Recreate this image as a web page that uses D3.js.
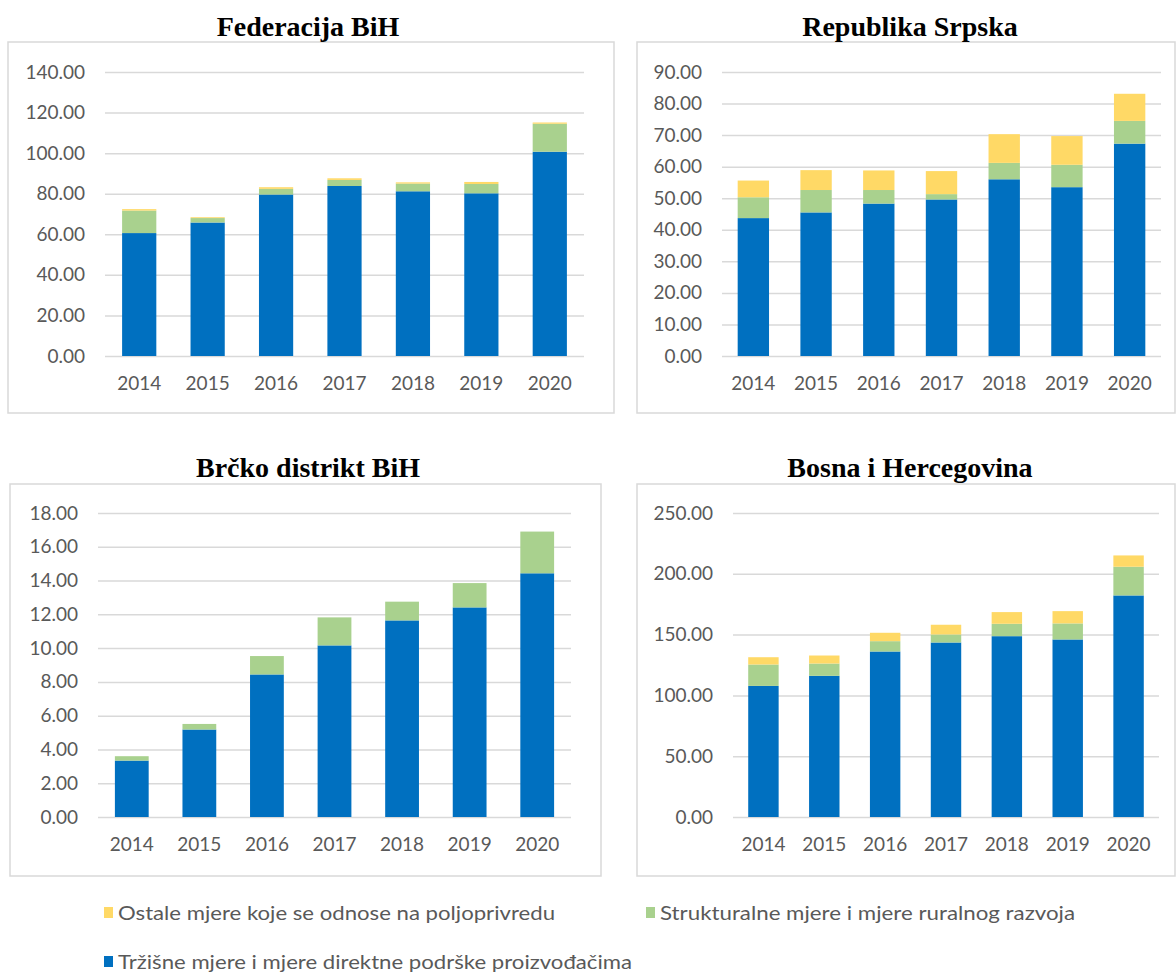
<!DOCTYPE html>
<html>
<head>
<meta charset="utf-8">
<script src="https://cdn.jsdelivr.net/npm/d3@7"></script>
<style>
  body { margin: 0; background: #fff; }
  svg { display: block; }
  .tick text { font-family: Lato, "Open Sans", sans-serif; font-size: 19px; fill: #595959; }
  .title { font-family: "Liberation Serif", "Times New Roman", serif; font-weight: bold; font-size: 28px; fill: #000; }
  .legend text { font-family: Lato, "Open Sans", sans-serif; font-size: 19px; fill: #595959; }
</style>
</head>
<body>
<div id="main"></div>
<script>
const years = ["2014", "2015", "2016", "2017", "2018", "2019", "2020"];
const seriesNames = [
  "Tržišne mjere i mjere direktne podrške proizvođačima",
  "Strukturalne mjere i mjere ruralnog razvoja",
  "Ostale mjere koje se odnose na poljoprivredu"
];
const colors = ["#0070c0", "#a9d18e", "#ffd966"];

// Federacija BiH
const fbihMarket = [60.6, 65.8, 79.6, 83.8, 81.2, 80.2, 100.7];
const fbihRural  = [11.1, 2.2, 2.8, 3.0, 3.8, 4.6, 13.8];
const fbihOther  = [0.7, 0.4, 0.8, 0.8, 0.6, 1.0, 0.6];
// Republika Srpska
const rsMarket = [43.7, 45.5, 48.3, 49.6, 56.0, 53.5, 67.3];
const rsRural  = [6.6, 7.1, 4.3, 1.7, 5.2, 7.1, 7.2];
const rsOther  = [5.3, 6.3, 6.2, 7.3, 9.1, 9.1, 8.6];
// Brčko distrikt BiH
const bdMarket = [3.34, 5.18, 8.44, 10.16, 11.64, 12.41, 14.43];
const bdRural  = [0.26, 0.33, 1.09, 1.66, 1.11, 1.44, 2.47];
const bdOther  = [0, 0, 0, 0, 0, 0, 0];
// Bosna i Hercegovina
const bihMarket = [107.8, 116.1, 136.1, 143.5, 148.7, 146.0, 182.2];
const bihRural  = [17.6, 10.1, 8.5, 6.6, 10.2, 13.2, 23.6];
const bihOther  = [6.0, 6.6, 6.9, 8.0, 9.6, 10.1, 9.3];

const yTicksFbih = [0, 20, 40, 60, 80, 100, 120, 140];
const yTicksRs = [0, 10, 20, 30, 40, 50, 60, 70, 80, 90];
const yTicksBd = [0, 2, 4, 6, 8, 10, 12, 14, 16, 18];
const yTicksBih = [0, 50, 100, 150, 200, 250];

const panels = [
  { title: "Federacija BiH", data: [fbihMarket, fbihRural, fbihOther], ticks: yTicksFbih,
    box: [8, 42, 614, 413], x0: 105, x1: 584, yTop: 72, yBot: 356, titleX: 308, titleY: 36 },
  { title: "Republika Srpska", data: [rsMarket, rsRural, rsOther], ticks: yTicksRs,
    box: [637, 42, 1175, 413], x0: 722, x1: 1161, yTop: 72, yBot: 356, titleX: 910, titleY: 36 },
  { title: "Brčko distrikt BiH", data: [bdMarket, bdRural, bdOther], ticks: yTicksBd,
    box: [10, 484, 601, 876], x0: 98, x1: 571, yTop: 513, yBot: 817, titleX: 308, titleY: 477 },
  { title: "Bosna i Hercegovina", data: [bihMarket, bihRural, bihOther], ticks: yTicksBih,
    box: [637, 484, 1175, 876], x0: 733, x1: 1159, yTop: 513, yBot: 817, titleX: 910, titleY: 477 }
];

const svg = d3.select("#main").append("svg").attr("width", 1176).attr("height", 975);

panels.forEach((p) => {
  const g = svg.append("g");

  g.append("rect")
    .attr("x", p.box[0]).attr("y", p.box[1])
    .attr("width", p.box[2] - p.box[0]).attr("height", p.box[3] - p.box[1])
    .attr("fill", "#fff").attr("stroke", "#d9d9d9").attr("stroke-width", 1.5);

  g.append("text").attr("class", "title")
    .attr("x", p.titleX).attr("y", p.titleY)
    .attr("text-anchor", "middle").text(p.title);

  const x = d3.scaleBand().domain(years).range([p.x0, p.x1]).paddingInner(0.5).paddingOuter(0.25);
  const y = d3.scaleLinear().domain([0, d3.max(p.ticks)]).range([p.yBot, p.yTop]);

  const yAxis = d3.axisLeft(y).tickValues(p.ticks).tickFormat(d3.format(".2f"))
    .tickSize(-(p.x1 - p.x0)).tickPadding(20);
  const ya = g.append("g").attr("transform", `translate(${p.x0},0)`).call(yAxis);
  ya.select(".domain").remove();
  ya.selectAll(".tick line").attr("stroke", "#d9d9d9").attr("stroke-width", 1.5);

  const xAxis = d3.axisBottom(x).tickSize(0).tickPadding(21);
  const xa = g.append("g").attr("transform", `translate(0,${p.yBot})`).call(xAxis);
  xa.select(".domain").remove();

  const rows = years.map((yr, i) => ({ year: yr, s0: p.data[0][i], s1: p.data[1][i], s2: p.data[2][i] }));
  const stacked = d3.stack().keys(["s0", "s1", "s2"])(rows);

  g.selectAll(".layer")
    .data(stacked)
    .enter()
    .append("g")
    .attr("fill", (d, i) => colors[i])
    .selectAll("rect")
    .data((d) => d)
    .enter()
    .append("rect")
    .attr("x", (d) => x(d.data.year))
    .attr("width", x.bandwidth())
    .attr("y", (d) => y(d[1]))
    .attr("height", (d) => Math.max(0, y(d[0]) - y(d[1])));
});

// legend
const legendItems = [
  { name: seriesNames[2], color: colors[2], x: 104, y: 913, len: 437 },
  { name: seriesNames[1], color: colors[1], x: 646, y: 913, len: 415 },
  { name: seriesNames[0], color: colors[0], x: 104, y: 962, len: 514 }
];
const legend = svg.append("g").attr("class", "legend");
legendItems.forEach((d) => {
  legend.append("rect").attr("x", d.x).attr("y", d.y - 6).attr("width", 9).attr("height", 11).attr("fill", d.color);
  legend.append("text").attr("x", d.x + 14).attr("y", d.y + 7)
    .attr("textLength", d.len).attr("lengthAdjust", "spacingAndGlyphs").text(d.name);
});
</script>
</body>
</html>
